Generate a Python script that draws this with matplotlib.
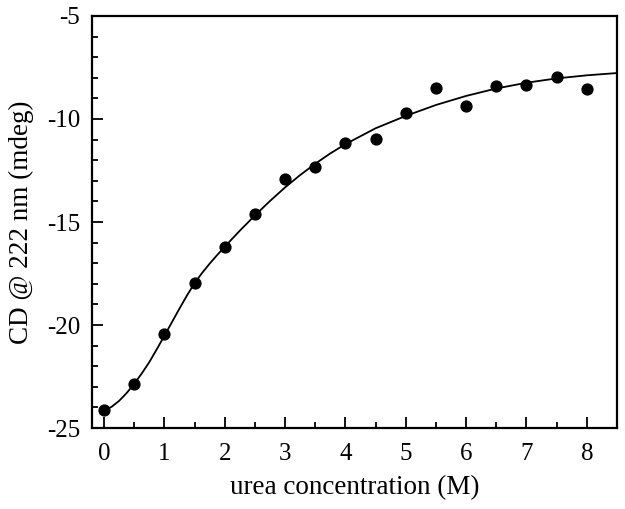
import numpy as np
import matplotlib
matplotlib.use("Agg")
import matplotlib.pyplot as plt
from matplotlib.ticker import MultipleLocator

plt.rcParams['font.family'] = ['Liberation Serif', 'DejaVu Serif']
plt.rcParams['axes.unicode_minus'] = False

# measured points
urea = [0, 0.5, 1, 1.5, 2, 2.5, 3, 3.5, 4, 4.5, 5, 5.5, 6, 6.5, 7, 7.5, 8]
cd = [-24.13, -22.85, -20.45, -17.94, -16.21, -14.63, -12.93, -12.31, -11.18,
      -10.99, -9.69, -8.50, -9.37, -8.41, -8.33, -7.96, -8.53]

# fitted curve
fit_x = [0, 0.125, 0.25, 0.375, 0.5, 0.625, 0.75, 0.875, 1, 1.125, 1.25, 1.375,
         1.5, 1.625, 1.75, 1.875, 2, 2.25, 2.5, 2.75, 3, 3.25, 3.5, 3.75, 4,
         4.5, 5, 5.5, 6, 6.5, 7, 7.5, 8, 8.5]
fit_y = [-24.15, -23.97, -23.68, -23.3, -22.85, -22.35, -21.8, -21.17, -20.52,
         -19.86, -19.2, -18.56, -17.97, -17.47, -17.02, -16.6, -16.2, -15.42,
         -14.68, -13.98, -13.32, -12.72, -12.17, -11.67, -11.22, -10.45, -9.85,
         -9.32, -8.88, -8.52, -8.24, -8.03, -7.88, -7.77]

fig = plt.figure(figsize=(6.25, 5.09), dpi=100)
ax = fig.add_axes([0.1472, 0.1591, 0.84, 0.8095])

ax.plot(fit_x, fit_y, color='black', lw=1.3, zorder=2)
ax.plot(urea, cd, 'o', color='black', ms=7.8, zorder=3)

ax.set_xlim(-0.2, 8.5)
ax.set_ylim(-25, -5)
ax.xaxis.set_major_locator(MultipleLocator(1))
ax.xaxis.set_minor_locator(MultipleLocator(0.5))
ax.yaxis.set_major_locator(MultipleLocator(5))
ax.yaxis.set_minor_locator(MultipleLocator(1))
ax.tick_params(which='both', direction='in', top=False, right=False,
               labelsize=18, width=1.3)
ax.tick_params(which='major', length=8)
ax.tick_params(which='minor', length=4.5)
ax.tick_params(axis='x', pad=11)
ax.tick_params(axis='y', pad=8.5)
for s in ax.spines.values():
    s.set_linewidth(1.6)

ax.set_xlabel("urea concentration (M)", fontsize=19.5, labelpad=7)
ax.set_ylabel("CD @ 222 nm (mdeg)", fontsize=19.5, labelpad=9)

fig.savefig("out.png", dpi=100)
